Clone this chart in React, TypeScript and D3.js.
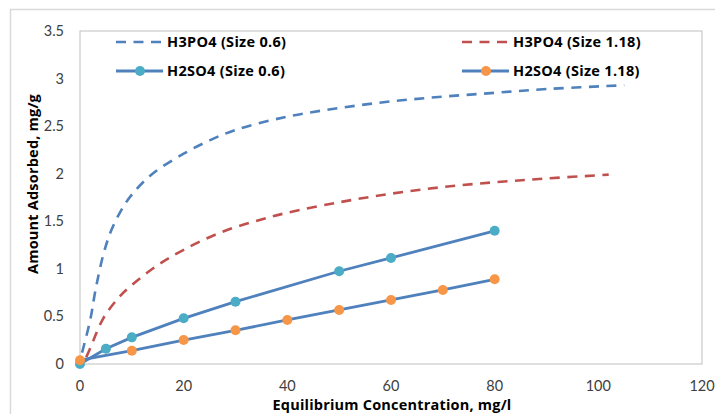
import React, { useRef, useEffect } from "react";
import * as d3 from "d3";

// H3PO4 isotherm curves (dashed, smoothed)
const h3po4SmallX = [0.4, 2, 3, 4.5, 6, 8, 10, 14, 20, 25, 30, 40, 50, 60, 70, 80, 90, 105];
const h3po4SmallY = [0.12, 0.47, 0.78, 1.15, 1.4, 1.62, 1.78, 2.0, 2.21, 2.35, 2.46, 2.6, 2.69, 2.76, 2.81, 2.85, 2.89, 2.93];
const h3po4LargeX = [1.2, 2, 4.5, 7.5, 10, 15, 20, 27, 35, 40, 50, 60, 70, 80, 90, 102];
const h3po4LargeY = [0.07, 0.17, 0.48, 0.7, 0.83, 1.04, 1.2, 1.38, 1.52, 1.59, 1.7, 1.79, 1.86, 1.91, 1.95, 1.99];

// H2SO4 measured points
const h2so4SmallX = [0, 5, 10, 20, 30, 50, 60, 80];
const h2so4SmallY = [0, 0.16, 0.28, 0.48, 0.655, 0.975, 1.115, 1.4];
const h2so4LargeX = [0, 10, 20, 30, 40, 50, 60, 70, 80];
const h2so4LargeY = [0.04, 0.14, 0.252, 0.354, 0.463, 0.568, 0.673, 0.778, 0.89];

const xTicks = [0, 20, 40, 60, 80, 100, 120];
const yTicks = [0, 0.5, 1, 1.5, 2, 2.5, 3, 3.5];

const TICK_FONT = "Lato, 'Open Sans', sans-serif";
const BOLD_FONT = "'Open Sans', Lato, sans-serif";

export default function App() {
    const svgRef = useRef<SVGSVGElement>(null);

    useEffect(() => {
        const svg = d3.select(svgRef.current);
        svg.selectAll("*").remove();

        const left = 80, right = 702, top = 31, bottom = 364;
        const x = d3.scaleLinear().domain([0, 120]).range([left, right]);
        const y = d3.scaleLinear().domain([0, 3.5]).range([bottom, top]);

        // chart border
        svg.append("rect")
            .attr("x", 10.5).attr("y", 9.5)
            .attr("width", 720).attr("height", 420)
            .attr("fill", "white")
            .attr("stroke", "#d9d9d9")
            .attr("stroke-width", 1.5);

        // plot area border
        svg.append("rect")
            .attr("x", left).attr("y", top)
            .attr("width", right - left).attr("height", bottom - top)
            .attr("fill", "none")
            .attr("stroke", "#bfbfbf")
            .attr("stroke-width", 1);

        // ticks
        svg.append("g")
            .selectAll("text")
            .data(xTicks)
            .enter()
            .append("text")
            .attr("x", d => x(d))
            .attr("y", 391)
            .attr("text-anchor", "middle")
            .attr("font-family", TICK_FONT)
            .attr("font-size", 14.5)
            .attr("fill", "#404040")
            .text(d => d);

        svg.append("g")
            .selectAll("text")
            .data(yTicks)
            .enter()
            .append("text")
            .attr("x", 64)
            .attr("y", d => y(d) + 5)
            .attr("text-anchor", "end")
            .attr("font-family", TICK_FONT)
            .attr("font-size", 14.5)
            .attr("fill", "#404040")
            .text(d => d);

        // axis titles
        svg.append("text")
            .attr("x", 392).attr("y", 410)
            .attr("text-anchor", "middle")
            .attr("font-family", BOLD_FONT)
            .attr("font-weight", "bold")
            .attr("font-size", 14.5)
            .attr("letter-spacing", 0.2)
            .attr("fill", "#000")
            .text("Equilibrium Concentration, mg/l");

        svg.append("text")
            .attr("transform", "translate(38,184) rotate(-90)")
            .attr("text-anchor", "middle")
            .attr("font-family", BOLD_FONT)
            .attr("font-weight", "bold")
            .attr("font-size", 14.5)
            .attr("letter-spacing", 0.2)
            .attr("fill", "#000")
            .text("Amount Adsorbed, mg/g");

        const smooth = d3.line<[number, number]>()
            .x(d => x(d[0]))
            .y(d => y(d[1]))
            .curve(d3.curveCatmullRom.alpha(0.5));
        const straight = d3.line<[number, number]>()
            .x(d => x(d[0]))
            .y(d => y(d[1]));

        const zip = (xs: number[], ys: number[]) => xs.map((v, i) => [v, ys[i]] as [number, number]);

        const dashed = [
            { pts: zip(h3po4SmallX, h3po4SmallY), color: "#4f81bd" },
            { pts: zip(h3po4LargeX, h3po4LargeY), color: "#c0504d" },
        ];
        dashed.forEach(s => {
            svg.append("path")
                .attr("d", smooth(s.pts))
                .attr("fill", "none")
                .attr("stroke", s.color)
                .attr("stroke-width", 2.6)
                .attr("stroke-dasharray", "10,7.5");
        });

        const solid = [
            { pts: zip(h2so4SmallX, h2so4SmallY), marker: "#4bacc6" },
            { pts: zip(h2so4LargeX, h2so4LargeY), marker: "#f79646" },
        ];
        solid.forEach(s => {
            svg.append("path")
                .attr("d", straight(s.pts))
                .attr("fill", "none")
                .attr("stroke", "#4f81bd")
                .attr("stroke-width", 2.8);
        });
        solid.forEach(s => {
            svg.append("g")
                .selectAll("circle")
                .data(s.pts)
                .enter()
                .append("circle")
                .attr("cx", d => x(d[0]))
                .attr("cy", d => y(d[1]))
                .attr("r", 5)
                .attr("fill", s.marker);
        });

        // legend
        const legend = [
            { label: "H3PO4 (Size 0.6)", lx: 116, ly: 42, color: "#4f81bd", dash: true, marker: "" },
            { label: "H3PO4 (Size 1.18)", lx: 462, ly: 42, color: "#c0504d", dash: true, marker: "" },
            { label: "H2SO4 (Size 0.6)", lx: 116, ly: 71, color: "#4f81bd", dash: false, marker: "#4bacc6" },
            { label: "H2SO4 (Size 1.18)", lx: 462, ly: 71, color: "#4f81bd", dash: false, marker: "#f79646" },
        ];
        const lg = svg.append("g");
        legend.forEach(l => {
            lg.append("line")
                .attr("x1", l.lx).attr("x2", l.lx + 47)
                .attr("y1", l.ly).attr("y2", l.ly)
                .attr("stroke", l.color)
                .attr("stroke-width", l.dash ? 2.6 : 2.8)
                .attr("stroke-dasharray", l.dash ? "10,7.5" : null);
            if (l.marker) {
                lg.append("circle")
                    .attr("cx", l.lx + 24).attr("cy", l.ly)
                    .attr("r", 5)
                    .attr("fill", l.marker);
            }
            lg.append("text")
                .attr("x", l.lx + 51).attr("y", l.ly + 5)
                .attr("font-family", BOLD_FONT)
                .attr("font-weight", "bold")
                .attr("font-size", 14.5)
                .attr("letter-spacing", 0.3)
                .attr("fill", "#000")
                .text(l.label);
        });
    }, []);

    return (
        <svg ref={svgRef} width={715} height={414}
            style={{ position: "absolute", left: 0, top: 0 }} />
    );
}
